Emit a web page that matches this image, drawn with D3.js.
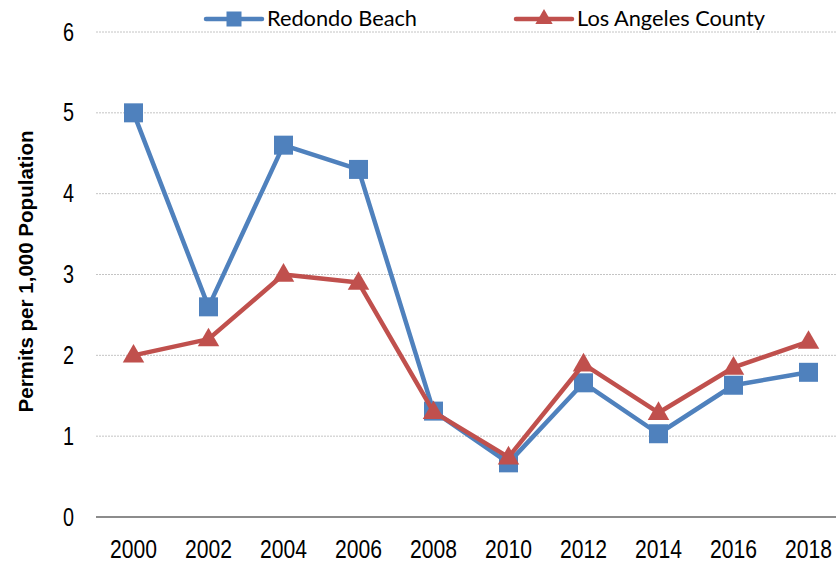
<!DOCTYPE html>
<html>
<head>
<meta charset="utf-8">
<script src="https://cdn.jsdelivr.net/npm/d3@7"></script>
<style>
  body { margin: 0; background: #fff; }
  .tick text { font-family: "Liberation Sans", Arial, sans-serif; font-size: 25px; fill: #000; }
</style>
</head>
<body>
<div class="chart"></div>
<script>
// values
const years = ['2000', '2002', '2004', '2006', '2008', '2010', '2012', '2014', '2016', '2018'];
const redondo = [5.0, 2.6, 4.6, 4.3, 1.31, 0.67, 1.66, 1.03, 1.63, 1.79];
const laCounty = [2.0, 2.2, 3.0, 2.9, 1.3, 0.74, 1.89, 1.29, 1.85, 2.17];
const yTicks = [0, 1, 2, 3, 4, 5, 6];

const W = 836, H = 563;
const margin = {top: 32, right: 0, bottom: 46, left: 96};

const svg = d3.select('.chart')
  .append('svg')
  .attr('width', W)
  .attr('height', H);

// category axis, 75px per year, plot runs past the right edge
const x = d3.scaleBand()
  .domain(years)
  .range([margin.left, margin.left + 750]);

const y = d3.scaleLinear()
  .domain([0, 6])
  .range([H - margin.bottom, margin.top]);

const cx = d => x(d) + x.bandwidth() / 2;

// gridlines
svg.append('g')
  .selectAll('line')
  .data(yTicks.filter(d => d > 0))
  .enter()
  .append('line')
  .attr('x1', margin.left)
  .attr('x2', W)
  .attr('y1', d => y(d))
  .attr('y2', d => y(d))
  .attr('stroke', '#c4c4c4')
  .attr('stroke-width', 1)
  .attr('stroke-dasharray', '2,1');

// baseline
svg.append('line')
  .attr('x1', margin.left)
  .attr('x2', W)
  .attr('y1', y(0))
  .attr('y2', y(0))
  .attr('stroke', '#8c8c8c')
  .attr('stroke-width', 2);

const yAxis = d3.axisLeft(y)
  .tickValues(yTicks)
  .tickFormat(d3.format('d'))
  .tickSize(0)
  .tickPadding(22);

svg.append('g')
  .attr('transform', `translate(${margin.left},0)`)
  .call(yAxis)
  .call(g => g.select('.domain').remove())
  .call(g => g.selectAll('.tick text')
    .attr('textLength', 11)
    .attr('lengthAdjust', 'spacingAndGlyphs'));

const xAxis = d3.axisBottom(x)
  .tickSize(0)
  .tickPadding(23);

svg.append('g')
  .attr('transform', `translate(0,${y(0)})`)
  .call(xAxis)
  .call(g => g.select('.domain').remove())
  .call(g => g.selectAll('.tick text')
    .attr('textLength', 47)
    .attr('lengthAdjust', 'spacingAndGlyphs'));

// y title
svg.append('text')
  .attr('transform', `translate(33,${(y(0) + y(6)) / 2 - 3}) rotate(-90)`)
  .attr('text-anchor', 'middle')
  .style('font-family', 'Liberation Sans, Arial, sans-serif')
  .style('font-weight', 'bold')
  .style('font-size', '20px')
  .attr('textLength', 282)
  .attr('lengthAdjust', 'spacingAndGlyphs')
  .text('Permits per 1,000 Population');

const line = d3.line()
  .x((d, i) => cx(years[i]))
  .y(d => y(d));

const blue = '#4f81bd', red = '#c0504d';

svg.append('path')
  .datum(redondo)
  .attr('d', line)
  .attr('fill', 'none')
  .attr('stroke', blue)
  .attr('stroke-width', 4.5)
  .attr('stroke-linejoin', 'round');

svg.append('g')
  .selectAll('rect')
  .data(redondo)
  .enter()
  .append('rect')
  .attr('x', (d, i) => cx(years[i]) - 9.5)
  .attr('y', d => y(d) - 9.5)
  .attr('width', 19)
  .attr('height', 19)
  .attr('fill', blue);

svg.append('path')
  .datum(laCounty)
  .attr('d', line)
  .attr('fill', 'none')
  .attr('stroke', red)
  .attr('stroke-width', 4.5)
  .attr('stroke-linejoin', 'round');

const tri = d3.symbol().type(d3.symbolTriangle).size(200);
const triSmall = d3.symbol().type(d3.symbolTriangle).size(130);

svg.append('g')
  .selectAll('path')
  .data(laCounty)
  .enter()
  .append('path')
  .attr('d', tri)
  .attr('transform', (d, i) => `translate(${cx(years[i])},${y(d) + 1})`)
  .attr('fill', red);

// legend
const legend = [
  {name: 'Redondo Beach', color: blue, x: 206, w: 150, shape: 'square'},
  {name: 'Los Angeles County', color: red, x: 516, w: 188, shape: 'triangle'}
];

const lg = svg.append('g')
  .selectAll('g')
  .data(legend)
  .enter()
  .append('g')
  .attr('transform', d => `translate(${d.x},19)`);

lg.append('line')
  .attr('x1', 0)
  .attr('x2', 56)
  .attr('stroke', d => d.color)
  .attr('stroke-width', 4.5)
  .attr('stroke-linecap', 'round');

lg.filter(d => d.shape === 'square')
  .append('rect')
  .attr('x', 20.5)
  .attr('y', -7.5)
  .attr('width', 15)
  .attr('height', 15)
  .attr('fill', d => d.color);

lg.filter(d => d.shape === 'triangle')
  .append('path')
  .attr('d', triSmall)
  .attr('transform', 'translate(28,0)')
  .attr('fill', d => d.color);

lg.append('text')
  .attr('x', 61)
  .attr('y', 7)
  .style('font-family', 'Lato, "Open Sans", sans-serif')
  .style('font-size', '21px')
  .attr('textLength', d => d.w)
  .attr('lengthAdjust', 'spacingAndGlyphs')
  .text(d => d.name);
</script>
</body>
</html>
